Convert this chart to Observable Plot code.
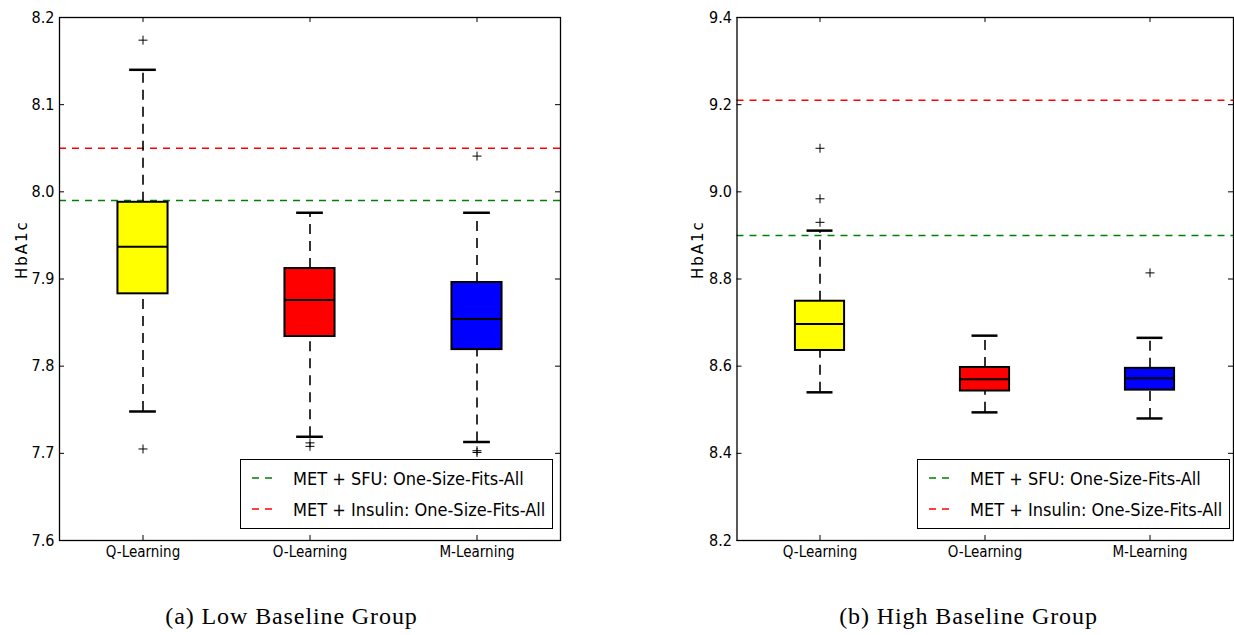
<!DOCTYPE html>
<html>
<head>
<meta charset="utf-8">
<script src="https://cdn.jsdelivr.net/npm/d3@7"></script>
<script src="https://cdn.jsdelivr.net/npm/@observablehq/plot@0.6"></script>
<style>
  html, body { margin: 0; padding: 0; background: #fff; }
  body { width: 1234px; height: 635px; position: relative; overflow: hidden; }
  .panel { position: absolute; top: 0; }
  .caption { position: absolute; top: 603px; font-family: "Liberation Serif", serif; font-size: 24px; letter-spacing: 0.9px; color: #000; white-space: nowrap; transform: translateX(-50%); }
  .legend { position: absolute; box-sizing: border-box; border: 1.5px solid #000; background: #fff; width: 313px; height: 70px; }
  .legend .row { position: absolute; left: 0; height: 24px; display: flex; align-items: center; }
  .legend .row svg { margin-left: 11px; width: 22px; height: 6px; }
  .legend .row span { margin-left: 19px; font-family: "DejaVu Sans Condensed", "DejaVu Sans", sans-serif; font-stretch: condensed; font-size: 18px; color: #000; }
  text.ylab { font-family: "DejaVu Sans", sans-serif !important; font-stretch: normal !important; letter-spacing: 2px; }
</style>
</head>
<body>
<div id="left" class="panel" style="left:0px"></div>
<div id="right" class="panel" style="left:617px"></div>
<script>
// ---- data ----
const methods = ["Q-Learning", "O-Learning", "M-Learning"];

const lowWhiskerLo = [7.748, 7.719, 7.713];
const lowQ1        = [7.883, 7.834, 7.819];
const lowMedian    = [7.937, 7.876, 7.854];
const lowQ3        = [7.988, 7.912, 7.896];
const lowWhiskerHi = [8.140, 7.976, 7.976];
const lowOutliers  = [[8.174, 7.705], [7.712, 7.708], [8.041, 7.703, 7.701]];
const lowRefSFU = 7.99;
const lowRefInsulin = 8.05;
const lowTicks = [7.6, 7.7, 7.8, 7.9, 8.0, 8.1, 8.2];

const highWhiskerLo = [8.540, 8.494, 8.480];
const highQ1        = [8.636, 8.543, 8.545];
const highMedian    = [8.697, 8.570, 8.572];
const highQ3        = [8.749, 8.597, 8.595];
const highWhiskerHi = [8.911, 8.670, 8.665];
const highOutliers  = [[9.100, 8.984, 8.930], [], [8.814]];
const highRefSFU = 8.90;
const highRefInsulin = 9.21;
const highTicks = [8.2, 8.4, 8.6, 8.8, 9.0, 9.2, 9.4];

const yLabel = "HbA1c";
const legendLabels = ["MET + SFU: One-Size-Fits-All", "MET + Insulin: One-Size-Fits-All"];
const captions = ["(a) Low Baseline Group", "(b) High Baseline Group"];

// ---- styles ----
const boxColors = ["#ffff00", "#ff0000", "#0000ff"];
const sfuColor = "#008000";
const insulinColor = "#ff0000";
const sansCond = "'DejaVu Sans Condensed', 'DejaVu Sans', sans-serif";

function panel(opts) {
  const {lo, q1, med, q3, hi, outliers, refSFU, refIns, ticks, width, marginLeft, marginRight, labelDx} = opts;
  const height = 575, marginTop = 17, marginBottom = 35;
  const fw = width - marginLeft - marginRight;
  const fh = height - marginTop - marginBottom;
  const band = fw / methods.length;
  const boxInset = band * (1 - 0.3) / 2;
  const capInset = band * (1 - 0.16) / 2;
  const rows = methods.map((m, i) => ({method: m, lo: lo[i], q1: q1[i], med: med[i], q3: q3[i], hi: hi[i], color: boxColors[i]}));
  const outRows = methods.flatMap((m, i) => outliers[i].map(v => ({method: m, v})));
  const fmt = d3.format(".1f");
  const svg = Plot.plot({
    width, height, marginLeft, marginRight, marginTop, marginBottom,
    style: {fontFamily: sansCond, fontStretch: "condensed", fontSize: "16px", color: "#000", background: "#fff"},
    x: {type: "band", domain: methods, padding: 0},
    y: {domain: [ticks[0], ticks[ticks.length - 1]]},
    color: {type: "identity"},
    marks: [
      Plot.ruleY([refIns], {stroke: insulinColor, strokeWidth: 1.5, strokeDasharray: "7,6"}),
      Plot.ruleY([refSFU], {stroke: sfuColor, strokeWidth: 1.5, strokeDasharray: "7,6"}),
      Plot.ruleX(rows, {x: "method", y1: "lo", y2: "q1", stroke: "#000", strokeWidth: 1.6, strokeDasharray: "10,7"}),
      Plot.ruleX(rows, {x: "method", y1: "q3", y2: "hi", stroke: "#000", strokeWidth: 1.6, strokeDasharray: "10,7"}),
      Plot.tickY(rows, {x: "method", y: "lo", stroke: "#000", strokeWidth: 2.5, insetLeft: capInset, insetRight: capInset}),
      Plot.tickY(rows, {x: "method", y: "hi", stroke: "#000", strokeWidth: 2.5, insetLeft: capInset, insetRight: capInset}),
      Plot.barY(rows, {x: "method", y1: "q1", y2: "q3", fill: "color", stroke: "#000", strokeWidth: 2, insetLeft: boxInset, insetRight: boxInset}),
      Plot.tickY(rows, {x: "method", y: "med", stroke: "#000", strokeWidth: 2, insetLeft: boxInset, insetRight: boxInset}),
      Plot.dot(outRows, {x: "method", y: "v", symbol: "plus", r: 3, stroke: "#000", strokeWidth: 1}),
      // inward ticks on all four sides
      Plot.tickY(ticks, {y: d => d, stroke: "#000", strokeWidth: 1, insetRight: fw - 5}),
      Plot.tickY(ticks, {y: d => d, stroke: "#000", strokeWidth: 1, insetLeft: fw - 5}),
      Plot.tickX(methods, {x: d => d, stroke: "#000", strokeWidth: 1, insetBottom: fh - 5}),
      Plot.tickX(methods, {x: d => d, stroke: "#000", strokeWidth: 1, insetTop: fh - 5}),
      Plot.frame({stroke: "#000", strokeWidth: 1.3}),
      Plot.axisY(ticks, {tickSize: 0, tickPadding: 5, tickFormat: fmt, fontSize: 16, label: null}),
      Plot.axisX({tickSize: 0, tickPadding: 6, fontSize: 15, label: null}),
      Plot.text([yLabel], {frameAnchor: "left", rotate: -90, dx: labelDx, fontSize: 15})
    ]
  });
  d3.select(svg).selectAll("text").filter(function() { return this.textContent === yLabel; })
    .attr("class", "ylab")
    .style("font-family", "'DejaVu Sans', sans-serif")
    .style("font-stretch", "normal")
    .style("letter-spacing", "2px");
  return svg;
}

document.getElementById("left").appendChild(panel({
  lo: lowWhiskerLo, q1: lowQ1, med: lowMedian, q3: lowQ3, hi: lowWhiskerHi, outliers: lowOutliers,
  refSFU: lowRefSFU, refIns: lowRefInsulin, ticks: lowTicks,
  width: 617, marginLeft: 59, marginRight: 57, labelDx: -37
}));
document.getElementById("right").appendChild(panel({
  lo: highWhiskerLo, q1: highQ1, med: highMedian, q3: highQ3, hi: highWhiskerHi, outliers: highOutliers,
  refSFU: highRefSFU, refIns: highRefInsulin, ticks: highTicks,
  width: 617, marginLeft: 119.5, marginRight: 1, labelDx: -39
}));

function addLegend(left) {
  const div = document.createElement("div");
  div.className = "legend";
  div.style.left = left + "px";
  div.style.top = "459px";
  [sfuColor, insulinColor].forEach((c, i) => {
    const row = document.createElement("div");
    row.className = "row";
    row.style.top = (i === 0 ? 6 : 37) + "px";
    row.innerHTML = `<svg viewBox="0 0 22 6"><line x1="0" y1="3" x2="21" y2="3" stroke="${c}" stroke-width="1.5" stroke-dasharray="7,6"/></svg><span>${legendLabels[i]}</span>`;
    div.appendChild(row);
  });
  document.body.appendChild(div);
}
addLegend(240);
addLegend(917);

[[291.5, captions[0]], [968.5, captions[1]]].forEach(([x, t]) => {
  const d = document.createElement("div");
  d.className = "caption";
  d.style.left = x + "px";
  d.textContent = t;
  document.body.appendChild(d);
});
</script>
</body>
</html>
